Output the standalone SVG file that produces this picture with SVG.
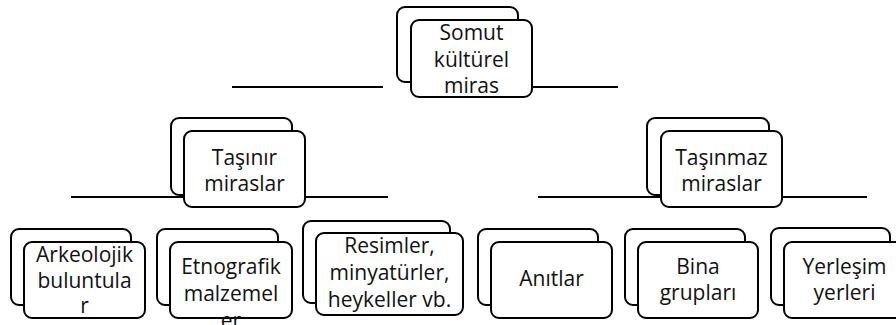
<svg xmlns="http://www.w3.org/2000/svg" width="896" height="325" viewBox="0 0 896 325">
<style>
.bk{fill:#fff;stroke:#000;stroke-width:2}
.fr{fill:#fff;stroke:#000;stroke-width:2}
.ln{stroke:#000;stroke-width:2;fill:none}
.t{font-family:"Open Sans","Liberation Sans",sans-serif;font-size:21px;fill:#111;text-anchor:middle}
</style>
<rect width="896" height="325" fill="#fff"/>
<g id="connectors">
<line class="ln" x1="232" y1="87" x2="383" y2="87"/>
<line class="ln" x1="532" y1="87" x2="618" y2="87"/>
<line class="ln" x1="71" y1="197" x2="338" y2="197" stroke-width="2.5"/>
<line class="ln" x1="305" y1="197" x2="388" y2="197"/>
<line class="ln" x1="538" y1="197" x2="807" y2="197" stroke-width="2.5"/>
<line class="ln" x1="782" y1="197" x2="867" y2="197"/>
</g>
<g id="somut">
<rect class="bk" x="397" y="7" width="121" height="75" rx="8"/>
<rect class="fr" x="411" y="20" width="121" height="77" rx="8"/>
<text class="t" x="471.5" y="40">Somut</text>
<text class="t" x="471.5" y="66.5">kültürel</text>
<text class="t" x="471.5" y="93">miras</text>
</g>
<g id="tasinir">
<rect class="bk" x="171" y="118" width="121" height="77" rx="8"/>
<rect class="fr" x="184" y="131" width="121" height="76" rx="8"/>
<text class="t" x="244.5" y="165">Taşınır</text>
<text class="t" x="244.5" y="191">miraslar</text>
</g>
<g id="tasinmaz">
<rect class="bk" x="647" y="118" width="122" height="77" rx="8"/>
<rect class="fr" x="661" y="131" width="121" height="76" rx="8"/>
<text class="t" x="721.5" y="165">Taşınmaz</text>
<text class="t" x="721.5" y="191">miraslar</text>
</g>
<g id="arkeolojik">
<rect class="bk" x="11" y="229" width="120" height="76" rx="8"/>
<rect class="fr" x="24" y="242" width="121" height="76" rx="8"/>
<text class="t" x="84.5" y="262">Arkeolojik</text>
<text class="t" x="84.5" y="288">buluntula</text>
<text class="t" x="84.5" y="313">r</text>
</g>
<g id="etnografik">
<rect class="bk" x="157" y="229" width="121" height="76" rx="8"/>
<rect class="fr" x="170" y="242" width="122" height="76" rx="8"/>
<text class="t" x="231" y="274">Etnografik</text>
<text class="t" x="231" y="301">malzemel</text>
<text class="t" x="231" y="328">er</text>
</g>
<g id="resimler">
<rect class="bk" x="303" y="221" width="147" height="82" rx="8"/>
<rect class="fr" x="316" y="233" width="147" height="82" rx="8"/>
<text class="t" x="389.5" y="253">Resimler,</text>
<text class="t" x="389.5" y="280">minyatürler,</text>
<text class="t" x="389.5" y="307">heykeller vb.</text>
</g>
<g id="anitlar">
<rect class="bk" x="478" y="229" width="120" height="76" rx="8"/>
<rect class="fr" x="491" y="242" width="121" height="76" rx="8"/>
<text class="t" x="551.5" y="286">Anıtlar</text>
</g>
<g id="bina">
<rect class="bk" x="625" y="229" width="120" height="76" rx="8"/>
<rect class="fr" x="638" y="242" width="120" height="76" rx="8"/>
<text class="t" x="698" y="274">Bina</text>
<text class="t" x="698" y="300">grupları</text>
</g>
<g id="yerlesim">
<rect class="bk" x="771" y="228" width="119" height="77" rx="8"/>
<rect class="fr" x="784" y="242" width="121" height="76" rx="8"/>
<text class="t" x="844.5" y="274">Yerleşim</text>
<text class="t" x="844.5" y="300">yerleri</text>
</g>
</svg>
